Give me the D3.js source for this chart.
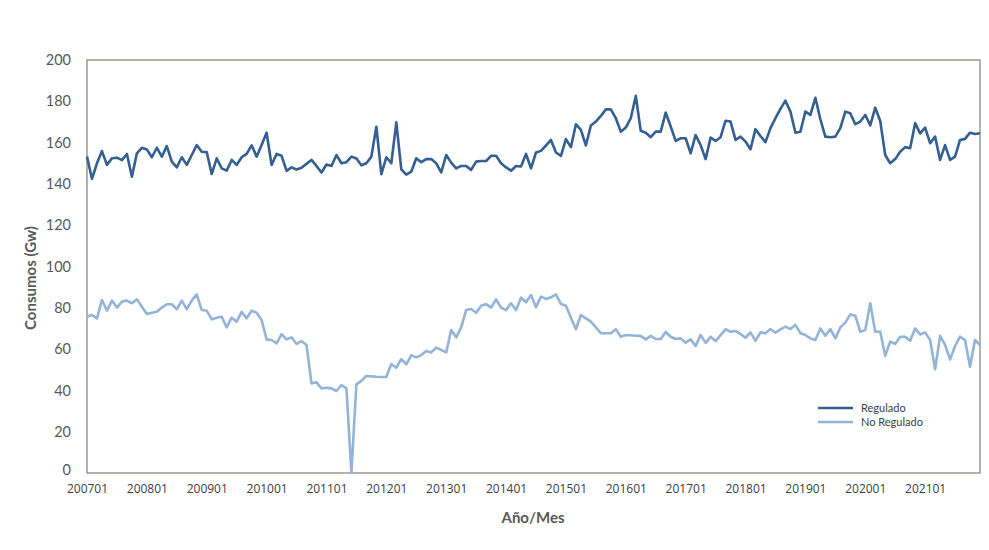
<!DOCTYPE html>
<html>
<head>
<meta charset="utf-8">
<script src="https://cdn.jsdelivr.net/npm/d3@7"></script>
<style>
  html, body { margin: 0; padding: 0; background: #fff; }
  svg { display: block; }
</style>
</head>
<body>
<svg id="chart" width="989" height="550"></svg>
<script>
// ---- Data ----
const startYear = 2007;
const nMonths = 180;
const months = [];
for (let i = 0; i < nMonths; i++) {
  const yy = startYear + Math.floor(i / 12);
  const mm = (i % 12) + 1;
  months.push(String(yy) + (mm < 10 ? "0" : "") + mm);
}

const regulado = [
  153.2, 142.4, 150, 155.9, 149.2, 152.4, 152.7, 151.5, 154.5, 143.5,
  154.8, 157.5, 156.7, 152.9, 157.5, 153.2, 158.3, 150.8, 148, 152.9,
  149.2, 154, 158.8, 155.6, 155.4, 144.8, 152.4, 147.5, 146.4, 151.6,
  149.2, 152.9, 154.5, 158.7, 153.2, 158.8, 164.8, 149.2, 154.5, 153.6,
  146.3, 148, 147, 147.8, 149.7, 151.6, 148.7, 145.5, 149.4, 148.7,
  154, 150, 150.5, 153.2, 152.3, 149, 150, 153.2, 167.7, 144.7,
  152.9, 150, 169.8, 147, 144.5, 145.9, 152.4, 150.5, 152, 152,
  150, 145.6, 154, 150.3, 147.5, 148.7, 148.7, 146.8, 150.8, 151.1,
  151.1, 153.6, 153.6, 150, 148, 146.4, 148.7, 148.4, 154.5, 147.5,
  155.2, 156, 158.6, 161.3, 155.2, 153.6, 161.7, 157.8, 168.9, 166.2,
  158.6, 168.3, 170.2, 172.9, 176.1, 176.1, 171.8, 165.3, 167.3, 171.8,
  182.6, 165.7, 164.8, 162.6, 165.3, 165.3, 174.5, 167.8, 160.8, 162.1,
  162.1, 154.8, 163.7, 158.8, 152, 162.4, 160.8, 162.6, 170.6, 170.2,
  161.3, 162.9, 160.5, 156.8, 166.5, 163.2, 160.2, 167, 171.8, 176.3,
  180.3, 175, 164.8, 165.3, 175, 173.4, 181.7, 171.3, 162.9, 162.6,
  162.9, 167, 175, 174.2, 168.9, 170.2, 173.4, 168.3, 176.9, 170.5,
  154, 150, 152, 155.6, 157.8, 157.3, 169.4, 164.5, 167.3, 159.7,
  162.9, 151.6, 158.8, 151.6, 153.2, 161.3, 161.8, 164.8, 164.2, 164.5
];

const noRegulado = [
  75.7, 76.5, 74.9, 83.8, 78.6, 83.5, 80.1, 83, 83.5, 82.2,
  84.1, 80.5, 77, 77.6, 78.1, 80.1, 81.7, 81.7, 79.3, 83.5,
  79.4, 83.5, 86.5, 78.9, 78.6, 74.4, 75.2, 75.7, 70.5, 75.2,
  73.3, 78, 74.9, 78.6, 77.6, 74.1, 64.7, 64.4, 62.8, 67.3,
  64.7, 65.7, 62.5, 63.9, 62, 43.4, 43.9, 41, 41.3, 41,
  39.7, 42.6, 41, 0, 42.9, 44.6, 47, 46.8, 46.6, 46.5,
  46.5, 52.8, 51, 55.2, 52.6, 57, 56, 57.1, 59.1, 58.4,
  60.7, 59.6, 58.4, 69.2, 65.7, 70.5, 78.9, 79.4, 77.6, 81,
  81.8, 80.1, 84.1, 80.1, 78.9, 82.2, 78.9, 84.9, 82.7, 86.2,
  80.3, 85.4, 84.3, 85.1, 86.5, 81.8, 81, 75.2, 69.6, 76.5,
  74.9, 73.3, 70.5, 67.7, 67.7, 67.7, 69.6, 66, 66.8, 66.7,
  66.5, 66.4, 64.7, 66.4, 64.9, 64.9, 68.3, 66, 64.9, 65.2,
  63.1, 64.7, 61.5, 66.8, 63, 66, 63.9, 66.8, 69.6, 68.4,
  68.8, 67.3, 65.5, 68.1, 64, 68.1, 67.7, 69.7, 67.9, 69.6,
  70.9, 69.7, 71.7, 67.7, 66.8, 65.2, 64.4, 70, 66.5, 69.7,
  65.2, 70.5, 72.8, 76.8, 76.2, 68.4, 69.2, 82.2, 68.4, 68.4,
  56.7, 63.6, 62.5, 66, 66, 64, 70, 67.1, 68.1, 64.4,
  50.2, 66.4, 62, 55, 61.5, 66, 64.4, 51.5, 64.4, 62
];

const yTicks = [0, 20, 40, 60, 80, 100, 120, 140, 160, 180, 200];
const xTickLabels = ["200701","200801","200901","201001","201101","201201","201301",
  "201401","201501","201601","201701","201801","201901","202001","202101"];

const seriesNames = ["Regulado", "No Regulado"];
const seriesColors = ["#335f93", "#93b3d8"];

// ---- Layout ----
(function () {
const svg = d3.select("#chart");
const pLeft = 87, pRight = 980, pTop = 60, pBottom = 473;

const x = d3.scalePoint().domain(months).range([pLeft, pRight]);
const y = d3.scaleLinear().domain([0, 200]).range([pBottom, pTop]);

// Plot frame
svg.append("rect")
  .attr("x", pLeft).attr("y", pTop)
  .attr("width", pRight - pLeft).attr("height", pBottom - pTop)
  .attr("fill", "none").attr("stroke", "#8a8a7e").attr("stroke-width", 1.3);

// Y axis
const yAxis = svg.append("g")
  .attr("transform", `translate(${pLeft},0)`)
  .call(d3.axisLeft(y).tickValues(yTicks).tickSize(0).tickPadding(16));
yAxis.select(".domain").remove();
yAxis.selectAll("text")
  .attr("font-family", "Lato, 'Open Sans', sans-serif")
  .attr("font-size", 14.5)
  .attr("fill", "#595959");
// lift the "0" label slightly so it clears the first date label
yAxis.selectAll(".tick").filter(d => d === 0).select("text").attr("dy", "0.1em");

// X axis
const xAxis = svg.append("g")
  .attr("transform", `translate(0,${pBottom})`)
  .call(d3.axisBottom(x).tickValues(xTickLabels).tickSize(0).tickPadding(11));
xAxis.select(".domain").remove();
xAxis.selectAll("text")
  .attr("font-family", "'Liberation Sans Narrow', 'Open Sans', sans-serif")
  .attr("font-size", 12)
  .attr("fill", "#404040");

// Axis titles
svg.append("text")
  .attr("x", 533).attr("y", 523)
  .attr("text-anchor", "middle")
  .attr("font-family", "Lato, 'Open Sans', sans-serif")
  .attr("font-weight", "bold")
  .attr("font-size", 15)
  .attr("fill", "#595959")
  .text("Año/Mes");

svg.append("text")
  .attr("transform", "translate(36,278) rotate(-90)")
  .attr("text-anchor", "middle")
  .attr("font-family", "Lato, 'Open Sans', sans-serif")
  .attr("font-weight", "bold")
  .attr("font-size", 15)
  .attr("fill", "#595959")
  .text("Consumos (Gw)");

// Lines
const line = d3.line()
  .x((d, i) => x(months[i]))
  .y(d => y(d));

[regulado, noRegulado].forEach((s, k) => {
  svg.append("path")
    .datum(s)
    .attr("fill", "none")
    .attr("stroke", seriesColors[k])
    .attr("stroke-width", 2.6)
    .attr("stroke-linejoin", "round")
    .attr("d", line);
});

// Legend
const legend = svg.append("g").attr("transform", "translate(818,408)");
seriesNames.forEach((name, k) => {
  const g = legend.append("g").attr("transform", `translate(0,${k * 14})`);
  g.append("line").attr("x1", 0).attr("x2", 35).attr("y1", 0).attr("y2", 0)
    .attr("stroke", seriesColors[k]).attr("stroke-width", 2.6);
  g.append("text").attr("x", 43).attr("y", 4)
    .attr("font-family", "Lato, 'Open Sans', sans-serif")
    .attr("font-size", 11)
    .attr("fill", "#404040")
    .text(name);
});
})();
</script>
</body>
</html>
